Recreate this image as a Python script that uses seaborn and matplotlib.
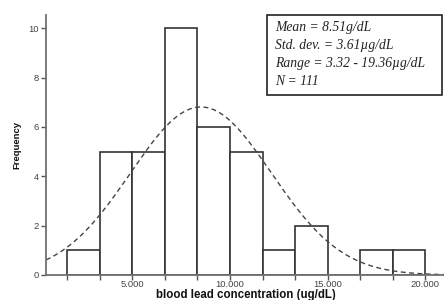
import numpy as np
import pandas as pd
import matplotlib
matplotlib.use("Agg")
import matplotlib.pyplot as plt
from matplotlib.patches import Rectangle
import seaborn as sns

# ---- data ----
bin_edges = [1.667, 3.333, 5.0, 6.667, 8.333, 10.0, 11.667, 13.333, 15.0, 16.667, 18.333, 20.0]
bin_counts = [1, 5, 5, 10, 6, 5, 1, 2, 0, 1, 1]
mean_val = 8.51
sd_val = 3.61
xtick_vals = [5, 10, 15, 20]
xtick_labels = ["5.000", "10.000", "15.000", "20.000"]
ytick_vals = [0, 2, 4, 6, 8, 10]
stats_lines = ["Mean = 8.51g/dL", "Std. dev. = 3.61\u00b5g/dL",
               "Range = 3.32 - 19.36\u00b5g/dL", "N = 111"]

sns.set_theme(style="white")
plt.rcParams['font.family'] = ['Liberation Sans', 'DejaVu Sans']

W, H = 444, 300
fig = plt.figure(figsize=(W / 100, H / 100), dpi=100)
ax = fig.add_axes([46 / W, 25 / H, 1 - 46 / W, 260 / H])

centers = [(bin_edges[i] + bin_edges[i + 1]) / 2 for i in range(len(bin_counts))]
df = pd.DataFrame({"conc": centers, "count": bin_counts})
sns.histplot(data=df, x="conc", weights="count", bins=bin_edges, ax=ax,
             color="white", alpha=1, edgecolor="#333333", linewidth=1.2)

# fitted normal curve from the stated mean and sd
bw = bin_edges[1] - bin_edges[0]
total = sum(bin_counts)
xs = np.linspace(0.58, 21.0, 300)
ys = total * bw * np.exp(-0.5 * ((xs - mean_val) / sd_val) ** 2) / (sd_val * np.sqrt(2 * np.pi))
sns.lineplot(x=xs, y=ys, ax=ax, color="#444444", linewidth=1.0,
             linestyle=(0, (3.5, 2.5)))

ax.set_xlim(0.58, 20.95)
ax.set_ylim(0, 10.54)
ax.set_xticks(xtick_vals)
ax.set_xticklabels(xtick_labels)
ax.set_xticks([e for e in bin_edges if e not in (5.0, 10.0, 15.0, 20.0)], minor=True)
ax.set_yticks(ytick_vals)
ax.tick_params(axis='both', which='both', direction='out', length=3.5, width=1.0,
               color="#555555", labelsize=6.8, labelcolor="#444444", pad=1.5)
ax.tick_params(axis='x', which='both', pad=0.3)
ax.tick_params(bottom=True, left=True, which='both')

for s in ["top", "right"]:
    ax.spines[s].set_visible(False)
for s in ["left", "bottom"]:
    ax.spines[s].set_color("#707070")
    ax.spines[s].set_linewidth(1.3)

ax.set_xlabel("blood lead concentration (ug/dL)", fontsize=8.3, fontweight="bold",
              color="#111111", va="center")
ax.xaxis.set_label_coords((245.5 - 46) / 398, -19.8 / 260)
ax.set_ylabel("Frequency", fontsize=6.8, fontweight="bold", color="#111111", va="center")
ax.yaxis.set_label_coords((17 - 46) / 398, 0.5)

# statistics box
bx0, by0, bx1, by1 = 267, 15, 442, 95
fig.patches.append(Rectangle((bx0 / W, 1 - by1 / H), (bx1 - bx0) / W, (by1 - by0) / H,
                             transform=fig.transFigure, facecolor="white",
                             edgecolor="#222222", linewidth=1.2, zorder=5))
fig.text(275 / W, 1 - 21 / H, "\n".join(stats_lines), ha="left", va="top",
         fontsize=9.8, style="italic", family=["Liberation Serif", "DejaVu Serif"],
         color="#222222", linespacing=1.5, zorder=6)

fig.savefig("out.png", dpi=100)
